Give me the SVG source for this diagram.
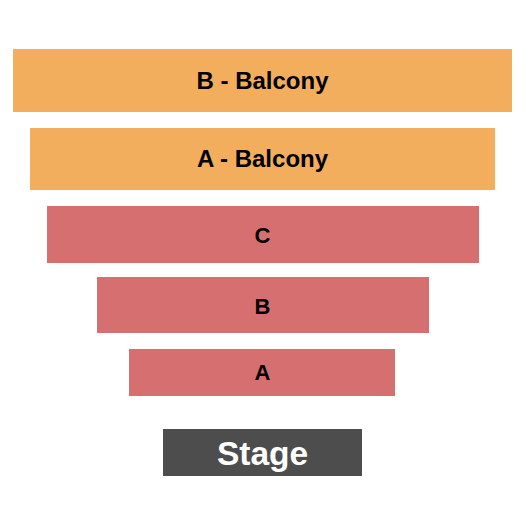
<svg xmlns="http://www.w3.org/2000/svg" width="525" height="525" viewBox="0 0 525 525">
<style>
.bal{fill:#F2AE5C}
.flr{fill:#D67070}
.stg{fill:#4D4D4D}
text{font-family:"Liberation Sans",Arial,sans-serif;font-weight:bold;text-anchor:middle}
.lb{fill:#000000;font-size:24px}
.ls{fill:#000000;font-size:22px}
.lt{fill:#FFFFFF;font-size:33.5px}
</style>
<rect width="525" height="525" fill="#FFFFFF"/>
<g id="b-balcony"><rect class="bal" x="13" y="49" width="499" height="63"/><text class="lb" x="262.5" y="89">B - Balcony</text></g>
<g id="a-balcony"><rect class="bal" x="30" y="128" width="465" height="62"/><text class="lb" x="262.5" y="167">A - Balcony</text></g>
<g id="c"><rect class="flr" x="47" y="206" width="432" height="57"/><text class="ls" x="262.5" y="243">C</text></g>
<g id="b"><rect class="flr" x="97" y="277" width="332" height="56"/><text class="ls" x="262.5" y="314">B</text></g>
<g id="a"><rect class="flr" x="129" y="349" width="266" height="47"/><text class="ls" x="262.5" y="380">A</text></g>
<g id="stage"><rect class="stg" x="163" y="429" width="199" height="47"/><text class="lt" x="262.5" y="465">Stage</text></g>
<g id="connectors"/>
</svg>
